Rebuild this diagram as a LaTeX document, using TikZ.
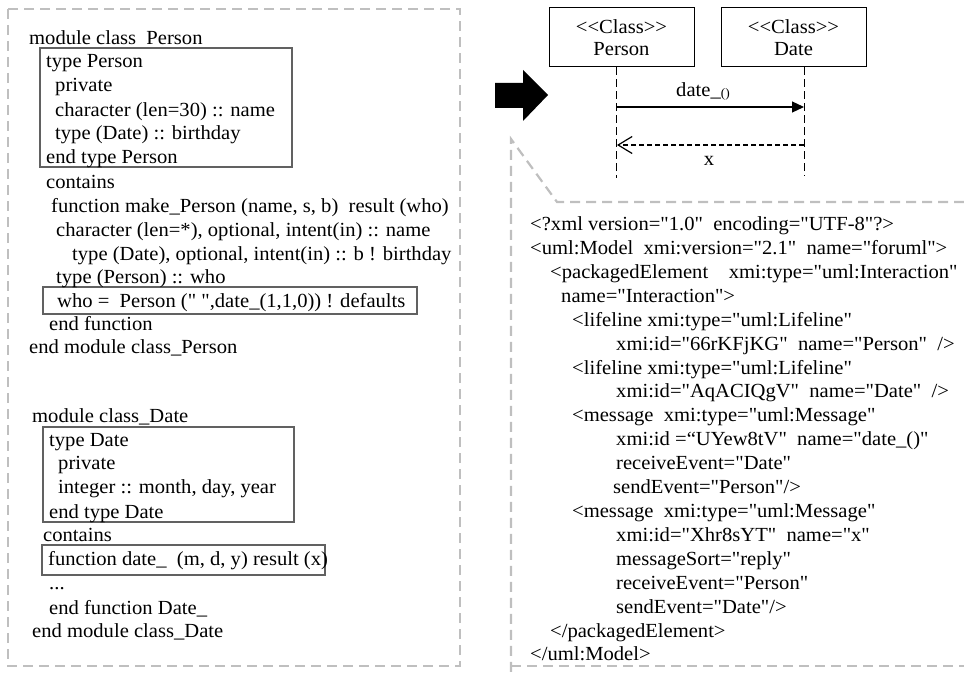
\documentclass[tikz,border=0pt]{standalone}
\usepackage{fontspec}
\newfontfamily\tnr[FakeStretch=1.03]{Liberation Serif}
\usetikzlibrary{arrows.meta}
\begin{document}
\begin{tikzpicture}[x=1pt,y=-1pt,
  txt/.style={anchor=base west, inner sep=0pt, font=\tnr\fontsize{20}{24}\selectfont},
  gdash/.style={draw=black!25, line width=2.2pt, dash pattern=on 10pt off 6pt},
  cbox/.style={draw=black!62, line width=1.3pt},
  cls/.style={draw=black, line width=1pt, minimum width=145pt, minimum height=59pt, inner sep=0pt, align=center, font=\tnr\fontsize{20}{22}\selectfont},
  life/.style={draw=black, line width=1pt, dash pattern=on 8pt off 4pt},
  msg/.style={draw=black, line width=1.2pt, -{Triangle[length=12pt,width=11pt]}},
  reply/.style={draw=black, line width=1.2pt, dash pattern=on 5pt off 3pt, -{Straight Barb[length=14pt,width=17pt,line width=1.2pt]}},
  lab/.style={inner sep=0pt, font=\tnr\fontsize{20}{24}\selectfont}
]
\useasboundingbox (0,0) rectangle (964,674);
% frames
\draw[gdash] (8,9) rectangle (460,666);
\draw[gdash] (964,202) -- (557,202) -- (511,139) -- (511,674);
\draw[gdash] (511,666) -- (964,666);
% code boxes
\draw[cbox] (40,48) rectangle (292,167);
\draw[cbox] (43,287) rectangle (417,314);
\draw[cbox] (43,427) rectangle (294,522);
\draw[cbox] (42,545) rectangle (325,575);
% left code
\node[txt] (l1) at (29,45) {module class\ \ Person};
\node[txt] (l2) at (46,68) {type Person};
\node[txt] (l3) at (55,92) {private};
\node[txt] (l4) at (55,117) {character (len=30) :: name};
\node[txt] (l5) at (55,140) {type (Date) :: birthday};
\node[txt] (l6) at (46,164) {end type Person};
\node[txt] (l7) at (46,188) {contains};
\node[txt] (l8) at (51,212) {function make\_Person (name, s, b)\ \ result (who)};
\node[txt] (l9) at (56,236) {character (len=*), optional, intent(in) :: name};
\node[txt] (l10) at (72,260) {type (Date), optional, intent(in) :: b ! birthday};
\node[txt] (l11) at (56,283) {type (Person) :: who};
\node[txt] (l12) at (57,307) {who =\ \ Person (" ",date\_(1,1,0)) ! defaults};
\node[txt] (l13) at (49,330) {end function};
\node[txt] (l14) at (29,353) {end module class\_Person};
\node[txt] (l15) at (32,422) {module class\_Date};
\node[txt] (l16) at (49,446) {type Date};
\node[txt] (l17) at (58,469) {private};
\node[txt] (l18) at (58,493) {integer :: month, day, year};
\node[txt] (l19) at (49,518) {end type Date};
\node[txt] (l20) at (43,541) {contains};
\node[txt] (l21) at (48,565) {function date\_\ \ (m, d, y) result (x)};
\node[txt] (l22) at (49,589) {...};
\node[txt] (l23) at (49,614) {end function Date\_};
\node[txt] (l24) at (32,637) {end module class\_Date};
% block arrow
\fill (495,83) -- (523,83) -- (523,70) -- (548,95) -- (523,121) -- (523,108) -- (495,108) -- cycle;
% sequence diagram
\node[cls] (P) at (621.5,37.5) {<{}<Class>{}>\\Person};
\node[cls] (D) at (793.5,37.5) {<{}<Class>{}>\\Date};
\coordinate (Pb) at (616,178);
\coordinate (Db) at (804,176);
\draw[life] (Pb |- P.south) -- (Pb);
\draw[life] (Db |- D.south) -- (Db);
\coordinate (m1s) at (616,107);
\coordinate (m1e) at (804,107);
\coordinate (m2s) at (804,145);
\coordinate (m2e) at (617,145);
\draw[msg] (m1s) -- (m1e);
\draw[reply] (m2s) -- (m2e);
\node[lab, anchor=base] (ml1) at (703,97) {date\_\raisebox{-1pt}{\fontsize{13}{13}\selectfont()}};
\node[lab, anchor=base] (ml2) at (709,166) {x};
% xml
\node[txt] (x1) at (530,230) {<?xml version="1.0"\ \ encoding="UTF-8"?>};
\node[txt] (x2) at (530,254) {<uml:Model\ \ xmi:version="2.1"\ \ name="foruml">};
\node[txt] (x3) at (550,278) {<packagedElement\ \ \ \ xmi:type="uml:Interaction"};
\node[txt] (x4) at (561,302) {name="Interaction">};
\node[txt] (x5) at (572,326) {<lifeline xmi:type="uml:Lifeline"};
\node[txt] (x6) at (616,350) {xmi:id="66rKFjKG"\ \ name="Person"\ \ />};
\node[txt] (x7) at (572,374) {<lifeline xmi:type="uml:Lifeline"};
\node[txt] (x8) at (616,397) {xmi:id="AqACIQgV"\ \ name="Date"\ \ />};
\node[txt] (x9) at (572,421) {<message\ \ xmi:type="uml:Message"};
\node[txt] (x10) at (616,445) {xmi:id =“UYew8tV"\ \ name="date\_()"};
\node[txt] (x11) at (616,469) {receiveEvent="Date"};
\node[txt] (x12) at (613,493) {sendEvent="Person"/>};
\node[txt] (x13) at (572,517) {<message\ \ xmi:type="uml:Message"};
\node[txt] (x14) at (616,541) {xmi:id="Xhr8sYT"\ \ name="x"};
\node[txt] (x15) at (616,565) {messageSort="reply"};
\node[txt] (x16) at (616,589) {receiveEvent="Person"};
\node[txt] (x17) at (616,613) {sendEvent="Date"/>};
\node[txt] (x18) at (550,637) {</packagedElement>};
\node[txt] (x19) at (530,660) {</uml:Model>};
\end{tikzpicture}
\end{document}
